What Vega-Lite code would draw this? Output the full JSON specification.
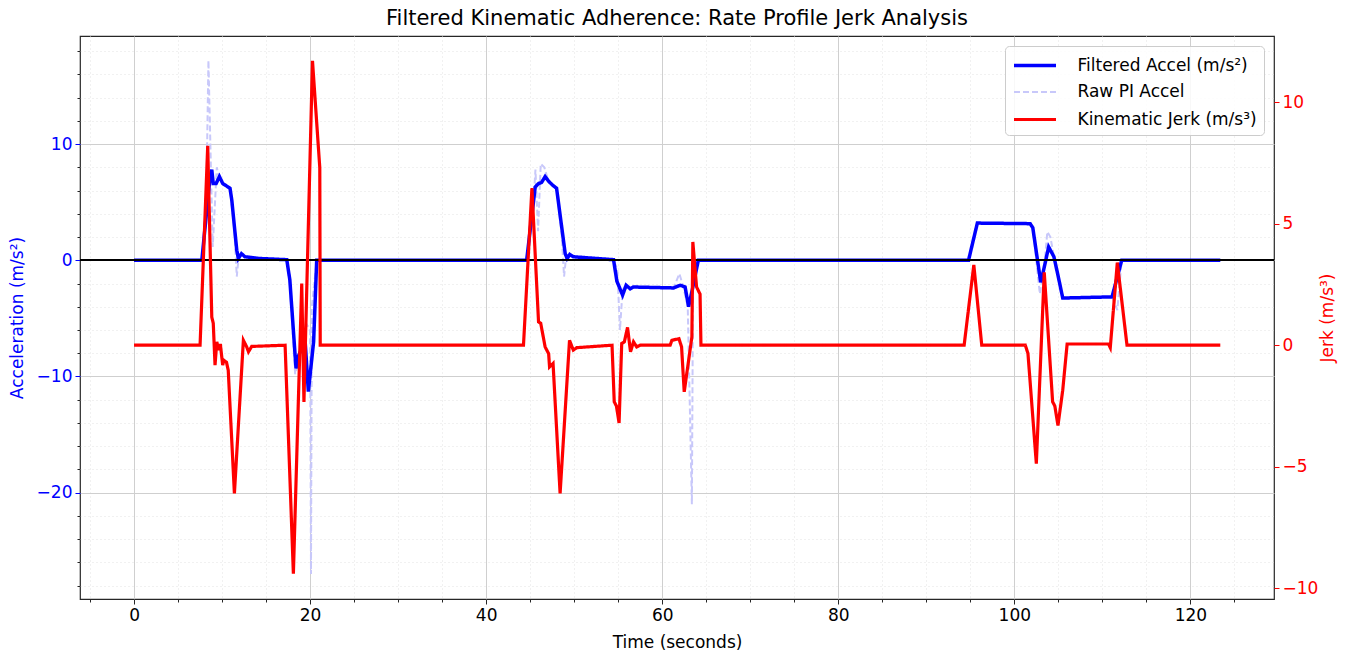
{
  "$schema": "https://vega.github.io/schema/vega-lite/v6.json",
  "width": 1194,
  "height": 563,
  "autosize": {"type": "none"},
  "padding": {"left": 80, "top": 36, "right": 76, "bottom": 54},
  "background": "white",
  "title": {"text": "Filtered Kinematic Adherence: Rate Profile Jerk Analysis", "fontSize": 21, "fontWeight": "normal", "color": "black", "offset": 7, "anchor": "middle"},
  "config": {
    "font": "DejaVu Sans",
    "view": {"stroke": "#262626", "strokeWidth": 1.2},
    "axis": {"domain": false, "labelFontSize": 17, "titleFontSize": 17, "labelColor": "black", "titleColor": "black", "tickColor": "#262626", "titleFontWeight": "normal", "gridColor": "#cfcfcf", "gridWidth": 1, "labelFont": "DejaVu Sans", "titleFont": "DejaVu Sans"},
    "legend": {"orient": "top-right", "offset": 10, "fillColor": "rgba(255,255,255,0.85)", "strokeColor": "#cccccc", "cornerRadius": 4, "padding": 7, "symbolType": "M-2,0H2", "symbolSize": 441, "symbolOffset": 10.5, "labelFontSize": 17, "labelFont": "DejaVu Sans", "labelColor": "black", "rowPadding": 6.5, "labelOffset": 30, "labelLimit": 400}
  },
  "datasets": {
    "d": [
      {"t":0,"s":"F","v":0},{"t":7.7,"s":"F","v":0},{"t":8.56,"s":"F","v":6.6},{"t":8.83,"s":"F","v":7.8},{"t":9.0,"s":"F","v":6.6},{"t":9.32,"s":"F","v":6.6},{"t":9.7,"s":"F","v":7.2},{"t":10.08,"s":"F","v":6.6},{"t":10.9,"s":"F","v":6.2},{"t":11.1,"s":"F","v":5.2},{"t":11.48,"s":"F","v":2.3},{"t":11.67,"s":"F","v":0.86},{"t":11.85,"s":"F","v":0.15},{"t":12.2,"s":"F","v":0.57},{"t":12.6,"s":"F","v":0.3},{"t":14.3,"s":"F","v":0.15},{"t":17.35,"s":"F","v":0.05},{"t":17.7,"s":"F","v":-1.7},{"t":18.4,"s":"F","v":-9.3},{"t":18.7,"s":"F","v":-8.2},{"t":19.43,"s":"F","v":-6.9},{"t":19.8,"s":"F","v":-11.3},{"t":20.4,"s":"F","v":-7.0},{"t":20.75,"s":"F","v":0},{"t":44.6,"s":"F","v":0},{"t":45.57,"s":"F","v":6.3},{"t":45.95,"s":"F","v":6.6},{"t":46.3,"s":"F","v":6.7},{"t":46.7,"s":"F","v":7.2},{"t":47.1,"s":"F","v":6.8},{"t":47.5,"s":"F","v":6.5},{"t":48.0,"s":"F","v":6.2},{"t":48.98,"s":"F","v":0.57},{"t":49.2,"s":"F","v":0.15},{"t":49.5,"s":"F","v":0.5},{"t":49.9,"s":"F","v":0.3},{"t":54.47,"s":"F","v":0.05},{"t":54.85,"s":"F","v":-1.8},{"t":55.5,"s":"F","v":-3.0},{"t":55.9,"s":"F","v":-2.15},{"t":56.36,"s":"F","v":-2.45},{"t":56.7,"s":"F","v":-2.3},{"t":61.3,"s":"F","v":-2.38},{"t":62.05,"s":"F","v":-2.15},{"t":62.6,"s":"F","v":-2.3},{"t":63.0,"s":"F","v":-4.0},{"t":63.4,"s":"F","v":-2.6},{"t":63.75,"s":"F","v":-1.3},{"t":64.1,"s":"F","v":0},{"t":94.8,"s":"F","v":0},{"t":95.8,"s":"F","v":3.2},{"t":101.8,"s":"F","v":3.15},{"t":102.1,"s":"F","v":2.8},{"t":103.0,"s":"F","v":-1.9},{"t":103.4,"s":"F","v":-0.6},{"t":103.9,"s":"F","v":1.15},{"t":104.5,"s":"F","v":0.3},{"t":105.0,"s":"F","v":-1.44},{"t":105.5,"s":"F","v":-3.25},{"t":111.1,"s":"F","v":-3.15},{"t":112.2,"s":"F","v":0},{"t":123.4,"s":"F","v":0},
      {"t":0,"s":"R","v":0},{"t":7.7,"s":"R","v":0},{"t":8.2,"s":"R","v":5},{"t":8.45,"s":"R","v":17.2},{"t":8.94,"s":"R","v":1.15},{"t":9.4,"s":"R","v":8.0},{"t":9.7,"s":"R","v":7.0},{"t":10.08,"s":"R","v":6.6},{"t":10.9,"s":"R","v":6.2},{"t":11.4,"s":"R","v":2.5},{"t":11.67,"s":"R","v":-1.4},{"t":11.9,"s":"R","v":0.4},{"t":12.2,"s":"R","v":0.5},{"t":12.6,"s":"R","v":0.3},{"t":14.3,"s":"R","v":0.15},{"t":17.35,"s":"R","v":0.05},{"t":17.7,"s":"R","v":-2},{"t":18.3,"s":"R","v":-9.8},{"t":18.7,"s":"R","v":-8.5},{"t":19.6,"s":"R","v":-5.5},{"t":20.0,"s":"R","v":-6},{"t":20.1,"s":"R","v":-27},{"t":20.2,"s":"R","v":-4},{"t":20.75,"s":"R","v":0},{"t":44.6,"s":"R","v":0},{"t":45.3,"s":"R","v":4},{"t":45.6,"s":"R","v":7.8},{"t":45.9,"s":"R","v":2.5},{"t":46.2,"s":"R","v":8.3},{"t":46.6,"s":"R","v":8.0},{"t":47.0,"s":"R","v":7.0},{"t":47.5,"s":"R","v":6.5},{"t":48.0,"s":"R","v":6.2},{"t":48.6,"s":"R","v":2},{"t":48.85,"s":"R","v":-1.4},{"t":49.1,"s":"R","v":0.4},{"t":49.5,"s":"R","v":0.5},{"t":49.9,"s":"R","v":0.3},{"t":54.47,"s":"R","v":0.05},{"t":54.9,"s":"R","v":-0.8},{"t":55.2,"s":"R","v":-6.0},{"t":55.5,"s":"R","v":-2.5},{"t":55.9,"s":"R","v":-2.2},{"t":56.36,"s":"R","v":-2.45},{"t":56.7,"s":"R","v":-2.3},{"t":61.3,"s":"R","v":-2.38},{"t":61.95,"s":"R","v":-1.15},{"t":62.4,"s":"R","v":-2.3},{"t":62.9,"s":"R","v":-4.0},{"t":63.37,"s":"R","v":-21},{"t":63.5,"s":"R","v":-2},{"t":63.75,"s":"R","v":-1.3},{"t":64.1,"s":"R","v":0},{"t":94.8,"s":"R","v":0},{"t":95.8,"s":"R","v":3.2},{"t":101.8,"s":"R","v":3.15},{"t":102.1,"s":"R","v":2.8},{"t":102.9,"s":"R","v":-2.9},{"t":103.4,"s":"R","v":-0.6},{"t":103.75,"s":"R","v":2.45},{"t":104.1,"s":"R","v":2.0},{"t":104.5,"s":"R","v":0.3},{"t":105.0,"s":"R","v":-1.5},{"t":105.5,"s":"R","v":-3.25},{"t":111.1,"s":"R","v":-3.15},{"t":111.7,"s":"R","v":-4.3},{"t":112.2,"s":"R","v":0},{"t":123.4,"s":"R","v":0},
      {"t":0,"s":"J","v":0},{"t":7.5,"s":"J","v":0},{"t":8.37,"s":"J","v":8.2},{"t":8.83,"s":"J","v":1.16},{"t":9.0,"s":"J","v":0.9},{"t":9.2,"s":"J","v":-0.82},{"t":9.4,"s":"J","v":0.14},{"t":9.6,"s":"J","v":-0.2},{"t":9.8,"s":"J","v":0.05},{"t":10.07,"s":"J","v":-0.82},{"t":10.2,"s":"J","v":-0.62},{"t":10.5,"s":"J","v":-0.7},{"t":10.7,"s":"J","v":-1.03},{"t":11.4,"s":"J","v":-6.1},{"t":12.42,"s":"J","v":0.2},{"t":12.8,"s":"J","v":-0.07},{"t":13.0,"s":"J","v":-0.27},{"t":13.37,"s":"J","v":-0.05},{"t":17.16,"s":"J","v":0},{"t":18.1,"s":"J","v":-9.4},{"t":19.05,"s":"J","v":2.54},{"t":19.3,"s":"J","v":-2.33},{"t":20.27,"s":"J","v":11.7},{"t":21.1,"s":"J","v":7.3},{"t":21.15,"s":"J","v":0},{"t":44.24,"s":"J","v":0},{"t":45.2,"s":"J","v":6.45},{"t":45.95,"s":"J","v":0.96},{"t":46.2,"s":"J","v":0.9},{"t":46.7,"s":"J","v":-0.07},{"t":47.1,"s":"J","v":-0.35},{"t":47.2,"s":"J","v":-0.89},{"t":47.6,"s":"J","v":-0.75},{"t":48.4,"s":"J","v":-6.1},{"t":49.47,"s":"J","v":0.2},{"t":49.9,"s":"J","v":-0.2},{"t":50.3,"s":"J","v":-0.1},{"t":54.3,"s":"J","v":0},{"t":54.55,"s":"J","v":-2.33},{"t":54.8,"s":"J","v":-2.5},{"t":55.1,"s":"J","v":-3.2},{"t":55.4,"s":"J","v":0.07},{"t":55.7,"s":"J","v":0.14},{"t":56.06,"s":"J","v":0.73},{"t":56.4,"s":"J","v":-0.27},{"t":56.74,"s":"J","v":0.14},{"t":57.1,"s":"J","v":-0.07},{"t":57.5,"s":"J","v":0},{"t":60.9,"s":"J","v":0},{"t":61.1,"s":"J","v":0.2},{"t":61.9,"s":"J","v":0.27},{"t":62.2,"s":"J","v":-0.07},{"t":62.5,"s":"J","v":-1.92},{"t":63.37,"s":"J","v":0.34},{"t":63.48,"s":"J","v":4.25},{"t":63.9,"s":"J","v":2.4},{"t":64.3,"s":"J","v":2.1},{"t":64.4,"s":"J","v":0},{"t":94.3,"s":"J","v":0},{"t":95.4,"s":"J","v":3.3},{"t":96.3,"s":"J","v":0},{"t":101.25,"s":"J","v":0},{"t":101.55,"s":"J","v":-0.34},{"t":102.5,"s":"J","v":-4.87},{"t":103.4,"s":"J","v":3.0},{"t":104.35,"s":"J","v":-2.33},{"t":104.6,"s":"J","v":-2.5},{"t":104.96,"s":"J","v":-3.3},{"t":105.5,"s":"J","v":-1.85},{"t":106.0,"s":"J","v":0.05},{"t":110.7,"s":"J","v":0.05},{"t":110.9,"s":"J","v":-0.1},{"t":111.7,"s":"J","v":3.4},{"t":112.8,"s":"J","v":0},{"t":123.4,"s":"J","v":0}
    ]
  },
  "data": {"name": "d"},
  "layer": [
    {
      "transform": [{"filter": "datum.s == 'F'"}],
      "mark": {"type": "line", "opacity": 0},
      "encoding": {
        "x": {"field": "t", "type": "quantitative", "scale": {"domain": [-6.14, 129.5], "nice": false, "zero": false},
              "axis": {"orient": "bottom", "values": [-5,5,10,15,25,30,35,45,50,55,65,70,75,85,90,95,105,110,115,125], "grid": true, "gridDash": [1,3], "gridColor": "#e2e2e2", "labels": false, "tickSize": 3, "title": null}},
        "y": {"field": "v", "type": "quantitative", "scale": {"domain": [-29.15, 19.3], "nice": false, "zero": false},
              "axis": {"orient": "left", "values": [-28,-26,-24,-22,-18,-16,-14,-12,-8,-6,-4,-2,2,4,6,8,12,14,16,18], "grid": true, "gridDash": [1,3], "gridColor": "#e2e2e2", "labels": false, "tickSize": 3, "title": null}}
      }
    },
    {
      "transform": [{"filter": "datum.s == 'R'"}],
      "mark": {"type": "line"},
      "encoding": {
        "x": {"field": "t", "type": "quantitative", "scale": {"domain": [-6.14, 129.5], "nice": false, "zero": false}, "axis": null},
        "y": {"field": "v", "type": "quantitative", "scale": {"domain": [-29.15, 19.3], "nice": false, "zero": false}, "axis": null},
        "color": {"field": "s", "type": "nominal", "scale": {"domain": ["F","R","J"], "range": ["#0000ff","#c8c8fa","#ff0000"]}, "legend": {"title": null, "labelExpr": "datum.label == 'F' ? 'Filtered Accel (m/s²)' : datum.label == 'R' ? 'Raw PI Accel' : 'Kinematic Jerk (m/s³)'"}},
        "strokeDash": {"field": "s", "type": "nominal", "scale": {"domain": ["F","R","J"], "range": [[1,0],[6,3],[1,0]]}, "legend": {"title": null, "labelExpr": "datum.label == 'F' ? 'Filtered Accel (m/s²)' : datum.label == 'R' ? 'Raw PI Accel' : 'Kinematic Jerk (m/s³)'"}},
        "strokeWidth": {"field": "s", "type": "nominal", "scale": {"type": "ordinal", "domain": ["F","R","J"], "range": [3.5,2,3.2]}, "legend": {"title": null, "labelExpr": "datum.label == 'F' ? 'Filtered Accel (m/s²)' : datum.label == 'R' ? 'Raw PI Accel' : 'Kinematic Jerk (m/s³)'"}}
      }
    },
    {
      "transform": [{"filter": "datum.s == 'F'"}],
      "mark": {"type": "line"},
      "encoding": {
        "x": {"field": "t", "type": "quantitative", "scale": {"domain": [-6.14, 129.5], "nice": false, "zero": false},
              "axis": {"orient": "bottom", "values": [0,20,40,60,80,100,120], "grid": true, "tickSize": 5, "title": "Time (seconds)", "labelPadding": 3, "titlePadding": 11}},
        "y": {"field": "v", "type": "quantitative", "scale": {"domain": [-29.15, 19.3], "nice": false, "zero": false},
              "axis": {"orient": "left", "values": [-20,-10,0,10], "grid": true, "tickSize": 5, "title": "Acceleration (m/s²)", "titleColor": "#0000ff", "labelColor": "#0000ff", "tickColor": "#0000ff", "labelPadding": 3, "titlePadding": 10}},
        "color": {"field": "s", "type": "nominal", "scale": {"domain": ["F","R","J"], "range": ["#0000ff","#c8c8fa","#ff0000"]}, "legend": {"title": null, "labelExpr": "datum.label == 'F' ? 'Filtered Accel (m/s²)' : datum.label == 'R' ? 'Raw PI Accel' : 'Kinematic Jerk (m/s³)'"}},
        "strokeDash": {"field": "s", "type": "nominal", "scale": {"domain": ["F","R","J"], "range": [[1,0],[6,3],[1,0]]}, "legend": {"title": null, "labelExpr": "datum.label == 'F' ? 'Filtered Accel (m/s²)' : datum.label == 'R' ? 'Raw PI Accel' : 'Kinematic Jerk (m/s³)'"}},
        "strokeWidth": {"field": "s", "type": "nominal", "scale": {"type": "ordinal", "domain": ["F","R","J"], "range": [3.5,2,3.2]}, "legend": {"title": null, "labelExpr": "datum.label == 'F' ? 'Filtered Accel (m/s²)' : datum.label == 'R' ? 'Raw PI Accel' : 'Kinematic Jerk (m/s³)'"}}
      }
    },
    {
      "mark": {"type": "rule", "color": "black", "strokeWidth": 1.3},
      "encoding": {
        "y": {"datum": 0, "type": "quantitative", "scale": {"domain": [-29.15, 19.3], "nice": false, "zero": false}, "axis": null}
      }
    },
    {
      "transform": [{"filter": "datum.s == 'J'"}],
      "mark": {"type": "line"},
      "encoding": {
        "x": {"field": "t", "type": "quantitative", "scale": {"domain": [-6.14, 129.5], "nice": false, "zero": false}, "axis": null},
        "y": {"field": "v", "type": "quantitative", "scale": {"domain": [-10.44, 12.72], "nice": false, "zero": false},
              "axis": {"orient": "right", "values": [-10,-5,0,5,10], "grid": false, "tickSize": 5, "title": "Jerk (m/s³)", "titleColor": "#ff0000", "labelColor": "#ff0000", "tickColor": "#ff0000", "labelPadding": 3, "titlePadding": 19, "titleAngle": 270}},
        "color": {"field": "s", "type": "nominal", "scale": {"domain": ["F","R","J"], "range": ["#0000ff","#c8c8fa","#ff0000"]}, "legend": {"title": null, "labelExpr": "datum.label == 'F' ? 'Filtered Accel (m/s²)' : datum.label == 'R' ? 'Raw PI Accel' : 'Kinematic Jerk (m/s³)'"}},
        "strokeDash": {"field": "s", "type": "nominal", "scale": {"domain": ["F","R","J"], "range": [[1,0],[6,3],[1,0]]}, "legend": {"title": null, "labelExpr": "datum.label == 'F' ? 'Filtered Accel (m/s²)' : datum.label == 'R' ? 'Raw PI Accel' : 'Kinematic Jerk (m/s³)'"}},
        "strokeWidth": {"field": "s", "type": "nominal", "scale": {"type": "ordinal", "domain": ["F","R","J"], "range": [3.5,2,3.2]}, "legend": {"title": null, "labelExpr": "datum.label == 'F' ? 'Filtered Accel (m/s²)' : datum.label == 'R' ? 'Raw PI Accel' : 'Kinematic Jerk (m/s³)'"}}
      }
    }
  ],
  "resolve": {"scale": {"y": "independent"}, "axis": {"x": "independent", "y": "independent"}}
}
